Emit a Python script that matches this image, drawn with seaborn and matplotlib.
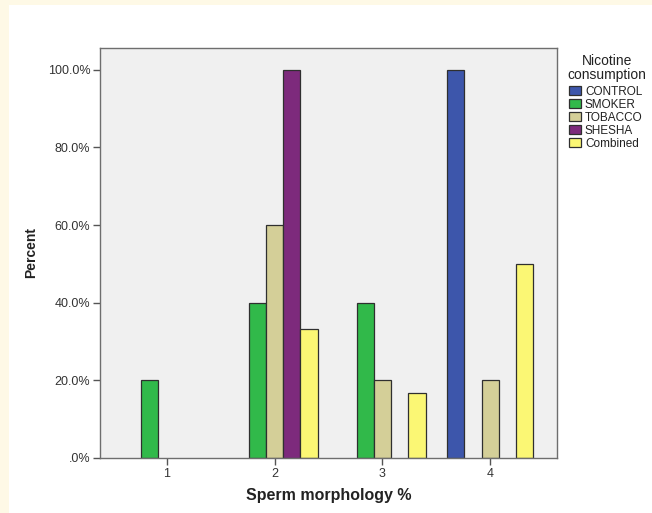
import matplotlib
matplotlib.use("Agg")
import matplotlib.pyplot as plt
from matplotlib.patches import Rectangle
import seaborn as sns
import pandas as pd

categories = ["1", "2", "3", "4"]
groups = ["CONTROL", "SMOKER", "TOBACCO", "SHESHA", "Combined"]
colors = ["#3d56ab", "#31b94a", "#d4cf98", "#7d2a7c", "#fbf774"]

cat_col = ["1", "2", "2", "2", "2", "3", "3", "3", "4", "4", "4"]
grp_col = ["SMOKER", "SMOKER", "TOBACCO", "SHESHA", "Combined",
           "SMOKER", "TOBACCO", "Combined",
           "CONTROL", "TOBACCO", "Combined"]
pct_col = [20.0, 40.0, 60.0, 100.0, 33.3, 40.0, 20.0, 16.7, 100.0, 20.0, 50.0]
yticks = [0, 20, 40, 60, 80, 100]
ytick_labels = [".0%", "20.0%", "40.0%", "60.0%", "80.0%", "100.0%"]

df = pd.DataFrame({"morph": cat_col, "group": grp_col, "pct": pct_col})

sns.set_style("white")
plt.rcParams["font.family"] = ["Liberation Sans", "DejaVu Sans"]

W, H = 652, 513
fig = plt.figure(figsize=(W / 100, H / 100), dpi=100)
fig.patch.set_facecolor("white")
# cream border strips (top and left)
fig.patches.append(Rectangle((0, 1 - 5 / H), 1, 5 / H, transform=fig.transFigure,
                             facecolor="#fef9e6", edgecolor="none", zorder=0))
fig.patches.append(Rectangle((0, 0), 9 / W, 1, transform=fig.transFigure,
                             facecolor="#fef9e6", edgecolor="none", zorder=0))

ax = fig.add_axes([100 / W, (H - 458) / H, (557 - 100) / W, (458 - 48) / H])
ax.set_facecolor("#f0f0f0")

sns.barplot(data=df, x="morph", y="pct", hue="group", order=categories,
            hue_order=groups, palette=dict(zip(groups, colors)), width=0.8,
            saturation=1, edgecolor="#2f2f2f", linewidth=0.9, errorbar=None,
            ax=ax, legend=True)

ax.set_xlim(-0.62, 3.62)
ax.set_ylim(0, 105.6)
ax.set_yticks(yticks)
ax.set_yticklabels(ytick_labels)
for s in ax.spines.values():
    s.set_color("#6e6e6e")
    s.set_linewidth(1.0)
ax.tick_params(axis="both", which="both", direction="out", length=5, width=1,
               color="#555555", labelsize=9, labelcolor="#333333",
               left=True, bottom=True, pad=2)
ax.set_xlabel("Sperm morphology %", fontsize=11.5, fontweight="bold",
              color="#222222", labelpad=6)
ax.set_ylabel("Percent", fontsize=10, fontweight="bold", color="#222222",
              labelpad=7)

handles, labels = ax.get_legend_handles_labels()
ax.get_legend().remove()
leg = fig.legend(handles, labels, loc="upper left",
                 bbox_to_anchor=(569 / W, 1 - 86 / H),
                 frameon=False, fontsize=8.5,
                 handlelength=1.0, handleheight=0.8, handletextpad=0.35,
                 labelspacing=0.08, borderaxespad=0, borderpad=0)
for t in leg.get_texts():
    t.set_color("#222222")
fig.text(607 / W, 1 - 68 / H, "Nicotine\nconsumption", ha="center", va="center",
         fontsize=10, color="#222222", linespacing=0.95)

fig.savefig("out.png", dpi=100)
